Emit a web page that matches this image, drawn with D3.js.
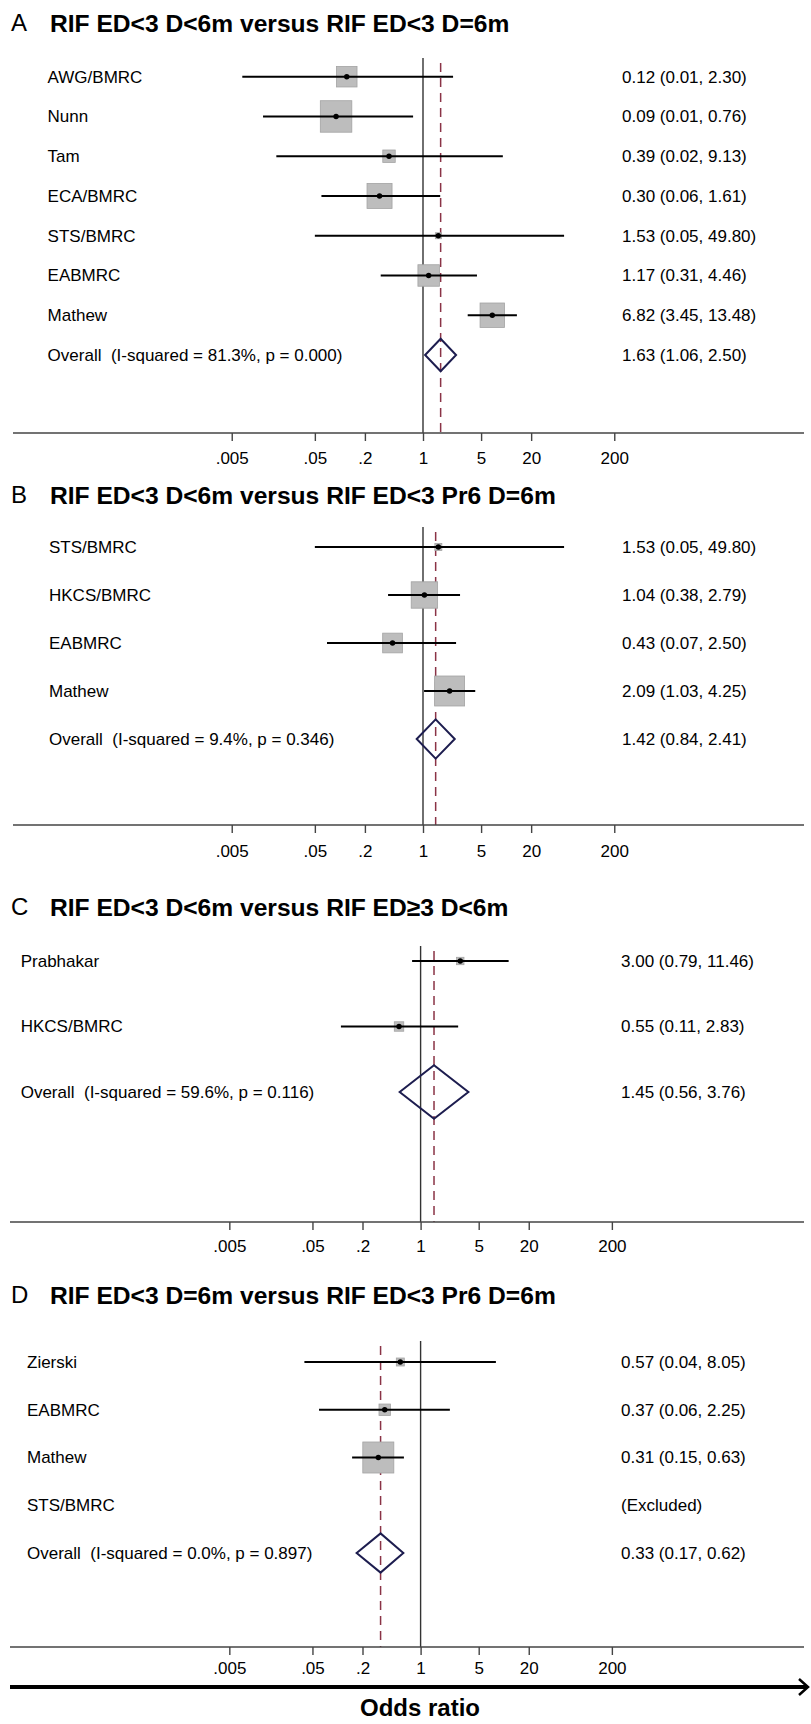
<!DOCTYPE html>
<html>
<head>
<meta charset="utf-8">
<script src="https://cdn.jsdelivr.net/npm/d3@7"></script>
<style>
  body { margin: 0; background: #fff; }
  svg text { font-family: 'Liberation Sans', Arial, sans-serif; }
</style>
</head>
<body>
<div id="chart-area"></div>
<script>
// PANEL TITLES
const panelLetters = ['A', 'B', 'C', 'D']
const panelTitles = [
    'RIF ED<3 D<6m versus RIF ED<3 D=6m',
    'RIF ED<3 D<6m versus RIF ED<3 Pr6 D=6m',
    'RIF ED<3 D<6m versus RIF ED\u22653 D<6m',
    'RIF ED<3 D=6m versus RIF ED<3 Pr6 D=6m'
]

// PANEL A
const studiesA = ['AWG/BMRC', 'Nunn', 'Tam', 'ECA/BMRC', 'STS/BMRC', 'EABMRC', 'Mathew']
const orA = [0.121, 0.09, 0.39, 0.30, 1.53, 1.17, 6.82]
const loA = [0.0067, 0.0119, 0.0172, 0.06, 0.05, 0.31, 3.45]
const hiA = [2.30, 0.76, 9.13, 1.61, 49.80, 4.46, 13.48]
const weightA = [12.8, 30.1, 4.7, 19.0, 1.1, 14.0, 18.2]

// PANEL B
const studiesB = ['STS/BMRC', 'HKCS/BMRC', 'EABMRC', 'Mathew']
const orB = [1.53, 1.04, 0.43, 2.09]
const loB = [0.05, 0.38, 0.07, 1.03]
const hiB = [49.80, 2.79, 2.50, 4.25]
const weightB = [2.4, 34.3, 19.1, 44.2]

// PANEL C
const studiesC = ['Prabhakar', 'HKCS/BMRC']
const orC = [3.00, 0.55]
const loC = [0.79, 0.11]
const hiC = [11.46, 2.83]
const weightC = [38, 62]

// PANEL D
const studiesD = ['Zierski', 'EABMRC', 'Mathew', 'STS/BMRC']
const orD = [0.57, 0.37, 0.31, null]
const loD = [0.04, 0.06, 0.15, null]
const hiD = [8.05, 2.25, 0.63, null]
const weightD = [5.5, 11.3, 83.2, null]

// POOLED ESTIMATES (A, B, C, D)
const overallOr = [1.63, 1.42, 1.45, 0.33]
const overallLo = [1.06, 0.84, 0.56, 0.17]
const overallHi = [2.50, 2.41, 3.76, 0.62]
const iSquared = ['81.3', '9.4', '59.6', '0.0']
const pHet = ['0.000', '0.346', '0.116', '0.897']

// AXIS
const tickValues = [0.005, 0.05, 0.2, 1, 5, 20, 200]
const tickLabels = ['.005', '.05', '.2', '1', '5', '20', '200']

// LAYOUT PER PANEL
const layout = [
    { titleY: 23, rowTop: 76.7, rowBottom: 355, plotTop: 58, axisY: 433, tickY: 458, axisLeft: 13, labelX: 47.6, statX: 622, oneX: 423, boxMax: 57.4 },
    { titleY: 495, rowTop: 547, rowBottom: 739, plotTop: 527, axisY: 825, tickY: 851, axisLeft: 13, labelX: 49, statX: 622, oneX: 423, boxMax: 45.1 },
    { titleY: 907, rowTop: 961, rowBottom: 1092, plotTop: 946, axisY: 1222, tickY: 1246, axisLeft: 10, labelX: 20.7, statX: 621, oneX: 420.6, boxMax: 12 },
    { titleY: 1295, rowTop: 1362, rowBottom: 1553, plotTop: 1341, axisY: 1647, tickY: 1668, axisLeft: 10, labelX: 27, statX: 621, oneX: 420.6, boxMax: 34 }
]

const width = 811
const height = 1724
const pxPerLn = 36.1
const fmt = d3.format('.2f')
const fontFamily = "'Liberation Sans', Arial, sans-serif"

const panels = [
    { studies: studiesA, or: orA, lo: loA, hi: hiA, w: weightA },
    { studies: studiesB, or: orB, lo: loB, hi: hiB, w: weightB },
    { studies: studiesC, or: orC, lo: loC, hi: hiC, w: weightC },
    { studies: studiesD, or: orD, lo: loD, hi: hiD, w: weightD }
]

const svg = d3.select('#chart-area')
              .append('svg')
              .attr('width', width)
              .attr('height', height)

panels.forEach((p, i) => {
    const L = layout[i]
    const g = svg.append('g')

    const span = Math.log(200) * pxPerLn
    const x = d3.scaleLog()
                .domain([0.005, 200])
                .range([L.oneX - span, L.oneX + span])

    const rows = p.studies.concat(['Overall'])
    const y = d3.scalePoint()
                .domain(rows)
                .range([L.rowTop, L.rowBottom])

    const box = d3.scaleSqrt()
                  .domain([0, 100])
                  .range([0, L.boxMax])

    const data = p.studies.map((s, j) => ({
        name: s, or: p.or[j], lo: p.lo[j], hi: p.hi[j], w: p.w[j]
    }))
    const shown = data.filter(d => d.or !== null)

    // TITLE
    g.append('text')
     .attr('x', 11)
     .attr('y', L.titleY)
     .attr('dy', '0.35em')
     .attr('font-size', '24px')
     .text(panelLetters[i])

    g.append('text')
     .attr('x', 50)
     .attr('y', L.titleY)
     .attr('dy', '0.35em')
     .attr('font-size', '24.6px')
     .attr('font-weight', 'bold')
     .text(panelTitles[i])

    // NULL LINE AND POOLED LINE
    g.append('line')
     .attr('x1', x(1)).attr('x2', x(1))
     .attr('y1', L.plotTop).attr('y2', L.axisY)
     .attr('stroke', '#333')
     .attr('stroke-width', 1.4)

    g.append('line')
     .attr('x1', x(overallOr[i])).attr('x2', x(overallOr[i]))
     .attr('y1', L.plotTop).attr('y2', L.axisY)
     .attr('stroke', '#8a3346')
     .attr('stroke-width', 1.5)
     .attr('stroke-dasharray', '9,6')
     .attr('stroke-dashoffset', -5)

    // WEIGHT BOXES
    g.selectAll('rect.wbox')
     .data(shown)
     .enter()
     .append('rect')
     .attr('class', 'wbox')
     .attr('x', d => x(d.or) - box(d.w) / 2)
     .attr('y', d => y(d.name) - box(d.w) / 2)
     .attr('width', d => box(d.w))
     .attr('height', d => box(d.w))
     .attr('fill', '#bdbdbd')
     .attr('stroke', '#a3a3a3')
     .attr('stroke-width', 0.8)

    // CONFIDENCE INTERVALS
    g.selectAll('line.ci')
     .data(shown)
     .enter()
     .append('line')
     .attr('class', 'ci')
     .attr('x1', d => x(d.lo))
     .attr('x2', d => x(d.hi))
     .attr('y1', d => y(d.name))
     .attr('y2', d => y(d.name))
     .attr('stroke', '#000')
     .attr('stroke-width', 2)

    // POINT ESTIMATES
    g.selectAll('circle.pt')
     .data(shown)
     .enter()
     .append('circle')
     .attr('class', 'pt')
     .attr('cx', d => x(d.or))
     .attr('cy', d => y(d.name))
     .attr('r', 2.7)
     .attr('fill', '#000')

    // POOLED DIAMOND
    const yo = y('Overall')
    const dh = y.step() * 0.41
    const diamond = [
        [x(overallLo[i]), yo],
        [x(overallOr[i]), yo - dh],
        [x(overallHi[i]), yo],
        [x(overallOr[i]), yo + dh]
    ]
    g.append('path')
     .attr('d', d3.line()(diamond) + 'Z')
     .attr('fill', 'none')
     .attr('stroke', '#1d1d4f')
     .attr('stroke-width', 2)

    // STUDY LABELS
    g.selectAll('text.study')
     .data(rows)
     .enter()
     .append('text')
     .attr('class', 'study')
     .attr('x', L.labelX)
     .attr('y', d => y(d))
     .attr('dy', '0.35em')
     .attr('font-size', '17px')
     .style('white-space', 'pre')
     .text(d => d === 'Overall'
         ? 'Overall  (I-squared = ' + iSquared[i] + '%, p = ' + pHet[i] + ')'
         : d)

    // ESTIMATE COLUMN
    const stats = data.map(d => d.or === null
        ? '(Excluded)'
        : fmt(d.or) + ' (' + fmt(d.lo) + ', ' + fmt(d.hi) + ')')
    stats.push(fmt(overallOr[i]) + ' (' + fmt(overallLo[i]) + ', ' + fmt(overallHi[i]) + ')')

    g.selectAll('text.stat')
     .data(stats)
     .enter()
     .append('text')
     .attr('class', 'stat')
     .attr('x', L.statX)
     .attr('y', (d, j) => y(rows[j]))
     .attr('dy', '0.35em')
     .attr('font-size', '17px')
     .text(d => d)

    // X AXIS
    g.append('line')
     .attr('x1', L.axisLeft).attr('x2', 804)
     .attr('y1', L.axisY).attr('y2', L.axisY)
     .attr('stroke', '#444')
     .attr('stroke-width', 1.5)

    const xAxisCall = d3.axisBottom(x)
                        .tickValues(tickValues)
                        .tickFormat((d, j) => tickLabels[j])
                        .tickSize(8)
                        .tickSizeOuter(0)

    const ag = g.append('g')
                .attr('class', 'x-axis')
                .attr('transform', 'translate(0, ' + L.axisY + ')')
                .call(xAxisCall)
    ag.attr('font-size', '17px')
      .attr('font-family', fontFamily)
    ag.select('.domain').remove()
    ag.selectAll('.tick line')
      .attr('stroke', '#444')
      .attr('stroke-width', 1.4)
    ag.selectAll('.tick text')
      .attr('y', L.tickY - L.axisY)
      .attr('dy', '0.35em')
      .attr('fill', '#000')
      .attr('font-size', '17px')
})

// BOTTOM ARROW AND LABEL
svg.append('line')
   .attr('x1', 10).attr('x2', 807)
   .attr('y1', 1687).attr('y2', 1687)
   .attr('stroke', '#000')
   .attr('stroke-width', 4)

svg.append('path')
   .attr('d', 'M799,1679 L808,1687 L799,1695')
   .attr('fill', 'none')
   .attr('stroke', '#000')
   .attr('stroke-width', 2.5)

svg.append('text')
   .attr('x', 420)
   .attr('y', 1708)
   .attr('dy', '0.35em')
   .attr('text-anchor', 'middle')
   .attr('font-size', '24px')
   .attr('font-weight', 'bold')
   .text('Odds ratio')
</script>
</body>
</html>
